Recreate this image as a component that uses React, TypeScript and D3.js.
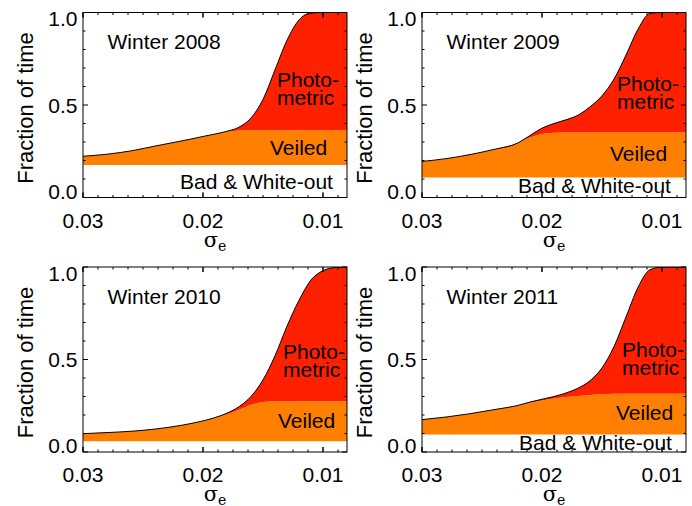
import * as d3 from "d3"

// sigma_e grid (x), shared by all four winters
const SIGMA = [0.03, 0.028, 0.026, 0.024, 0.022, 0.021, 0.02, 0.019, 0.018, 0.017, 0.016, 0.015, 0.014, 0.013, 0.012, 0.011, 0.01, 0.009, 0.008]

const WINTERS = ["Winter 2008", "Winter 2009", "Winter 2010", "Winter 2011"]

// fraction of time that is bad / white-out (flat level)
const BAD = [0.176, 0.108, 0.058, 0.095]

// cumulative fraction up to the top of "Veiled"
const VEILED_2008 = [0.223, 0.234, 0.252, 0.278, 0.303, 0.316, 0.33, 0.343, 0.355, 0.362, 0.364, 0.364, 0.364, 0.364, 0.364, 0.364, 0.364, 0.364, 0.364]
const VEILED_2009 = [0.195, 0.21, 0.232, 0.26, 0.295, 0.325, 0.343, 0.35, 0.352, 0.352, 0.352, 0.352, 0.352, 0.352, 0.352, 0.352, 0.352, 0.352, 0.352]
const VEILED_2010 = [0.099, 0.105, 0.112, 0.124, 0.142, 0.154, 0.168, 0.184, 0.203, 0.228, 0.255, 0.27, 0.274, 0.274, 0.274, 0.274, 0.274, 0.274, 0.274]
const VEILED_2011 = [0.175, 0.189, 0.207, 0.229, 0.252, 0.268, 0.279, 0.289, 0.297, 0.303, 0.308, 0.312, 0.315, 0.315, 0.315, 0.315, 0.315, 0.315, 0.315]

// cumulative fraction up to the top of "Photometric"
const TOTAL_2008 = [0.223, 0.234, 0.252, 0.278, 0.303, 0.316, 0.33, 0.343, 0.358, 0.38, 0.43, 0.53, 0.69, 0.85, 0.96, 0.997, 1, 1, 1]
const TOTAL_2009 = [0.195, 0.21, 0.232, 0.26, 0.295, 0.335, 0.375, 0.4, 0.42, 0.445, 0.49, 0.55, 0.64, 0.77, 0.91, 0.995, 1, 1, 1]
const TOTAL_2010 = [0.099, 0.105, 0.112, 0.124, 0.142, 0.154, 0.168, 0.186, 0.21, 0.245, 0.3, 0.39, 0.52, 0.68, 0.82, 0.93, 0.98, 0.997, 1]
const TOTAL_2011 = [0.175, 0.189, 0.207, 0.229, 0.252, 0.27, 0.285, 0.3, 0.319, 0.345, 0.385, 0.455, 0.57, 0.73, 0.89, 0.985, 1, 1, 1]

const VEILED = [VEILED_2008, VEILED_2009, VEILED_2010, VEILED_2011]
const TOTAL = [TOTAL_2008, TOTAL_2009, TOTAL_2010, TOTAL_2011]

const X_TICKS = [0.03, 0.02, 0.01]
const Y_TICKS = [0, 0.5, 1]

const RED = "#ff2000"
const ORANGE = "#ff8000"
const FONT = "'Liberation Sans', Arial, Helvetica, sans-serif"

const W = 692
const H = 506
const PW = 264
const PH = 185

// plot origins and label placements for each panel
const PANELS = [
  { left: 83, top: 12.5, photo: [194, 74], veiled: [187, 142], bad: [97, 176] },
  { left: 422, top: 12.5, photo: [195, 78], veiled: [188, 148], bad: [96, 180] },
  { left: 83, top: 267, photo: [200, 92], veiled: [195, 161], bad: null },
  { left: 422, top: 267, photo: [200, 90], veiled: [194, 153], bad: [97, 183] },
]

function Panel({ idx }: { idx: number }) {
  const p = PANELS[idx]
  const x = d3.scaleLinear().domain([0.03, 0.008]).range([0, PW])
  const y = d3.scaleLinear().domain([0, 1]).range([PH, 0])
  const pts = SIGMA.map((s, i) => ({ s, bad: BAD[idx], veiled: VEILED[idx][i], total: TOTAL[idx][i] }))

  const orange = d3
    .area<any>()
    .x((d) => x(d.s))
    .y0((d) => y(d.bad))
    .y1((d) => y(d.veiled))
    .curve(d3.curveMonotoneX)
  const red = d3
    .area<any>()
    .x((d) => x(d.s))
    .y0((d) => y(d.veiled))
    .y1((d) => y(d.total))
    .curve(d3.curveMonotoneX)
  const topLine = d3
    .line<any>()
    .x((d) => x(d.s))
    .y((d) => y(d.total))
    .curve(d3.curveMonotoneX)

  const xMinor = d3.range(0, 18).map((k) => 0.03 - k * 0.00125).filter((v) => v >= 0.008)
  const yMinor = d3.range(0, 11).map((k) => k / 10)
  const clipId = `clip${idx}`

  return (
    <g transform={`translate(${p.left},${p.top})`} fontFamily={FONT} fontSize={21}>
      <defs>
        <clipPath id={clipId}>
          <rect x={0} y={0} width={PW} height={PH} />
        </clipPath>
      </defs>
      <g clipPath={`url(#${clipId})`}>
        <path d={orange(pts) || ""} fill={ORANGE} />
        <path d={red(pts) || ""} fill={RED} />
        <path d={topLine(pts) || ""} fill="none" stroke="#000" strokeWidth={1} />
      </g>
      <rect x={0} y={0} width={PW} height={PH} fill="none" stroke="#000" strokeWidth={1} />

      {/* ticks */}
      {xMinor.map((v) => {
        const major = X_TICKS.some((t) => Math.abs(t - v) < 1e-6)
        const len = major ? 5 : 2.5
        return (
          <g key={"x" + v}>
            <line x1={x(v)} x2={x(v)} y1={PH} y2={PH - len} stroke="#000" />
            <line x1={x(v)} x2={x(v)} y1={0} y2={len} stroke="#000" />
          </g>
        )
      })}
      {X_TICKS.map((v) => (
        <g key={"xm" + v}>
          <line x1={x(v)} x2={x(v)} y1={PH} y2={PH - 5} stroke="#000" />
          <line x1={x(v)} x2={x(v)} y1={0} y2={5} stroke="#000" />
        </g>
      ))}
      {yMinor.map((v) => {
        const major = Y_TICKS.some((t) => Math.abs(t - v) < 1e-6)
        const len = major ? 5 : 2.5
        return (
          <g key={"y" + v}>
            <line x1={0} x2={len} y1={y(v)} y2={y(v)} stroke="#000" />
            <line x1={PW} x2={PW - len} y1={y(v)} y2={y(v)} stroke="#000" />
          </g>
        )
      })}

      {/* tick labels */}
      {X_TICKS.map((v) => (
        <text key={"xl" + v} x={x(v)} y={PH + 30} textAnchor="middle">
          {d3.format(".2f")(v)}
        </text>
      ))}
      {Y_TICKS.map((v) => (
        <text key={"yl" + v} x={-5.5} y={Math.min(Math.max(y(v) + 7.5, 13.5), PH + 1)} textAnchor="end">
          {d3.format(".1f")(v)}
        </text>
      ))}

      {/* axis titles */}
      <text transform={`translate(-50,${PH / 2 + 3}) rotate(-90)`} textAnchor="middle" fontSize={22}>
        Fraction of time
      </text>
      <text x={PW / 2} y={PH + 49} textAnchor="middle" fontFamily="'DejaVu Serif', 'Liberation Serif', serif" fontSize={21}>
        σ<tspan fontSize={14} dy={4}>e</tspan>
      </text>

      {/* in-plot labels */}
      <text x={24.5} y={36.7}>{WINTERS[idx]}</text>
      <text x={p.photo[0]} y={p.photo[1]}>Photo-</text>
      <text x={p.photo[0]} y={p.photo[1] + 18}>metric</text>
      <text x={p.veiled[0]} y={p.veiled[1]}>Veiled</text>
      {p.bad && (
        <text x={p.bad[0]} y={p.bad[1]}>
          Bad &amp; White-out
        </text>
      )}
    </g>
  )
}

export default function App() {
  return (
    <svg width={W} height={H} style={{ position: "absolute", left: 0, top: 0, background: "#fff" }}>
      {WINTERS.map((_, i) => (
        <Panel key={i} idx={i} />
      ))}
    </svg>
  )
}
